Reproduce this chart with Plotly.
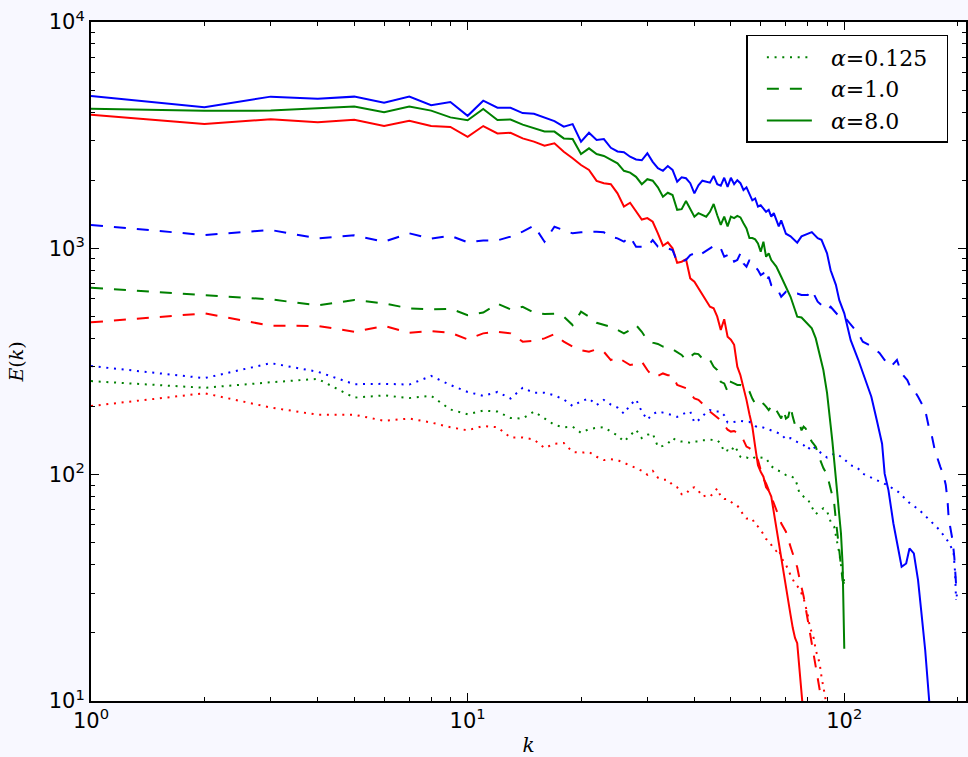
import plotly.graph_objects as go

# ---------------- data ----------------
# alpha = 8.0 (solid)
k_blue_solid = [1, 2, 3, 4, 5, 6, 7, 8, 9, 10, 11, 12, 13, 14, 15, 16, 17, 18, 19, 20,
                21, 22, 23, 24, 25, 26, 27, 28, 29, 30, 31, 32, 33, 34, 35, 36, 37, 38, 39, 40,
                41, 42, 43, 44, 45, 46, 47, 48, 49, 50, 51, 52, 53, 54, 55, 56, 57, 58, 59, 60,
                62, 63, 64, 65, 67, 68, 70, 72, 75, 77, 80, 82, 85, 87, 90, 92, 95, 97, 100,
                104, 109, 113, 118, 122, 126, 128, 131, 135, 139, 142, 146, 149, 153, 157, 160,
                164, 168, 170]
E_blue_solid = [4710, 4200, 4680, 4580, 4680, 4400, 4680, 4290, 4430, 3850, 4490, 4180, 4180,
                3960, 3930, 3790, 3650, 3450, 3540, 2960, 3240, 3010, 3040, 2780, 2680, 2660,
                2540, 2470, 2450, 2630, 2410, 2260, 2200, 2310, 2220, 1970, 2060, 2040, 1940,
                1750, 1900, 1990, 1970, 1950, 2090, 1920, 1890, 2050, 1870, 2050, 1920, 2000,
                1940, 1810, 1860, 1750, 1630, 1660, 1530, 1550, 1450, 1480, 1380, 1430, 1250,
                1330, 1160, 1130, 1060, 1130, 1160, 1180, 1110, 1090, 950, 800, 690, 590, 516,
                393, 321, 271, 221, 174, 137, 101, 85.5, 61, 46.4, 39.2, 40.5, 47.2, 44.9, 34.2,
                25.2, 16.8, 10.1, 8.0]

k_green_solid = [1, 2, 3, 4, 5, 6, 7, 8, 9, 10, 11, 12, 13, 14, 15, 16, 17, 18, 19, 20,
                 21, 22, 23, 24, 25, 26, 27, 28, 29, 30, 31, 32, 33, 34, 35, 36, 37, 38, 39, 40,
                 41, 42, 43, 44, 45, 46, 47, 48, 49, 50, 51, 52, 53, 54, 55, 56, 57, 58, 59, 60,
                 61, 62, 63, 64, 66, 68, 70, 72, 74, 75, 77, 80, 82, 84, 86, 88, 90, 91, 92, 93,
                 94, 95, 96, 97, 98, 99, 100]
E_green_solid = [4140, 4050, 4060, 4170, 4230, 3990, 4230, 4060, 3790, 3680, 4130, 3690, 3710,
                 3520, 3380, 3280, 3280, 3060, 3040, 2610, 2765, 2610, 2560, 2470, 2375, 2200,
                 2160, 2070, 1920, 2020, 1990, 1860, 1690, 1760, 1720, 1480, 1490, 1620, 1500,
                 1380, 1430, 1400, 1380, 1450, 1570, 1400, 1270, 1380, 1250, 1380, 1360, 1390,
                 1370, 1290, 1225, 1110, 1110, 1095, 1050, 966, 1070, 918, 950, 888, 830, 749,
                 677, 611, 534, 499, 495, 462, 443, 400, 340, 290, 230, 200, 165, 140, 118, 97,
                 80, 66, 55, 40, 17]

k_red_solid = [1, 2, 3, 4, 5, 6, 7, 8, 9, 10, 11, 12, 13, 14, 15, 16, 17, 18, 19, 20,
               21, 22, 23, 24, 25, 26, 27, 28, 29, 30, 31, 32, 33, 34, 35, 36, 37, 38, 39, 40,
               41, 42, 43, 44, 45, 46, 47, 48, 49, 50, 51, 52, 53, 54, 55, 56, 57, 58, 59, 60,
               61, 62, 63, 64, 65, 66, 67, 68, 69, 70, 71, 72, 73, 74, 75, 76, 77, 78]
E_red_solid = [3890, 3540, 3720, 3610, 3700, 3470, 3660, 3470, 3440, 3110, 3470, 3220, 3240,
               3060, 2960, 2840, 2910, 2670, 2500, 2335, 2220, 1985, 1940, 1920, 1750, 1530,
               1590, 1450, 1340, 1360, 1310, 1165, 1027, 1063, 1000, 864, 873, 894, 737, 712,
               666, 632, 591, 552, 543, 499, 436, 486, 407, 395, 375, 300, 275, 245, 214, 185,
               163, 133, 110, 103, 98, 88, 85, 80, 68, 58, 50, 42, 36, 31, 28, 24, 21, 19, 18,
               14, 11, 8.5]

# alpha = 1.0 (dashed)
k_blue_dash = [1, 2, 3, 4, 5, 6, 7, 8, 9, 10, 11, 12, 13, 14, 15, 16, 17, 18, 19, 20,
               21, 22, 23, 24, 25, 26, 27, 28, 29, 30, 31, 32, 33, 34, 35, 36, 37, 38, 39, 40,
               41, 42, 43, 44, 45, 46, 47, 48, 49, 50, 51, 52, 53, 54, 55, 56, 57, 58, 59, 60,
               61, 62, 63, 64, 66, 68, 70, 72, 75, 77, 80, 82, 85, 87, 90, 92, 95, 97, 100,
               105, 109, 112, 118, 124, 128, 133, 138, 142, 147, 151, 154, 157, 160, 164, 168,
               171, 174, 177, 180, 183, 186, 188, 189, 191, 194, 196, 198, 199]
E_blue_dash = [1268, 1145, 1205, 1107, 1141, 1070, 1165, 1103, 1137, 1063, 1084, 1084, 1126,
               1185, 1259, 1070, 1246, 1205, 1165, 1177, 1185, 1185, 1177, 1126, 1107, 1070,
               1126, 1017, 1017, 1017, 1088, 1017, 1000, 1000, 983, 873, 873, 888, 934, 950,
               925, 950, 983, 1000, 1024, 1034, 1000, 918, 934, 950, 873, 888, 950, 858, 830,
               888, 844, 830, 802, 762, 775, 712, 749, 688, 677, 611, 643, 632, 632, 622, 622,
               654, 581, 562, 534, 552, 516, 499, 499, 451, 420, 387, 370, 345, 321, 300, 321,
               280, 262, 236, 233, 221, 207, 193, 160, 147, 128, 116, 108, 101, 90, 77, 67, 59,
               51, 43, 35, 29]

k_green_dash = [1, 2, 3, 4, 5, 6, 7, 8, 9, 10, 11, 12, 13, 14, 15, 16, 17, 18, 19, 20,
                21, 22, 23, 24, 25, 26, 27, 28, 29, 30, 31, 32, 33, 34, 35, 36, 37, 38, 39, 40,
                41, 42, 43, 44, 45, 46, 47, 48, 49, 50, 51, 52, 53, 54, 55, 56, 57, 58, 59, 60,
                61, 62, 63, 64, 65, 66, 67, 68, 69, 70, 71, 72, 73, 74, 75, 76, 77, 78, 79, 80,
                82, 84, 86, 88, 90, 92, 94, 95, 96, 97, 98, 99, 100]
E_green_dash = [670, 620, 595, 560, 591, 571, 543, 537, 541, 507, 520, 570, 537, 552, 520, 513,
                514, 499, 458, 525, 499, 469, 461, 450, 436, 421, 436, 458, 428, 393, 383, 378,
                368, 365, 358, 349, 338, 321, 332, 343, 341, 326, 316, 321, 300, 290, 257, 253,
                233, 257, 253, 249, 249, 245, 245, 233, 217, 206, 200, 203, 206, 200, 193, 200,
                190, 193, 186, 177, 193, 177, 180, 200, 180, 166, 163, 168, 157, 163, 160, 150,
                140, 133, 118, 107, 100, 85, 75, 63, 53, 45, 39, 34, 33]

k_red_dash = [1, 2, 3, 4, 5, 6, 7, 8, 9, 10, 11, 12, 13, 14, 15, 16, 17, 18, 19, 20,
              21, 22, 23, 24, 25, 26, 27, 28, 29, 30, 31, 32, 33, 34, 35, 36, 37, 38, 39, 40,
              41, 42, 43, 44, 45, 46, 47, 48, 49, 50, 51, 52, 53, 54, 55, 56, 57, 58, 59, 60,
              61, 62, 63, 64, 65, 66, 68, 70, 72, 74, 75, 76, 78, 80, 82, 84, 86, 87, 88]
E_red_dash = [471, 516, 455, 454, 428, 454, 424, 431, 424, 396, 421, 428, 421, 387, 390, 400,
              418, 387, 368, 355, 349, 358, 349, 321, 330, 316, 305, 308, 316, 290, 271, 273,
              280, 275, 275, 249, 245, 241, 229, 217, 214, 206, 196, 190, 186, 180, 174, 166,
              158, 155, 156, 153, 150, 142, 133, 131, 128, 122, 116, 105, 96, 91.5, 85.5, 81,
              75, 70, 61, 56, 48, 42, 39, 35, 29, 22.8, 18, 14.7, 11.6, 10.4, 9]

# alpha = 0.125 (dotted)
k_blue_dot = [1, 2, 3, 4, 5, 6, 7, 8, 9, 10, 11, 12, 13, 14, 15, 16, 17, 18, 19, 20,
              21, 22, 23, 24, 25, 26, 27, 28, 29, 30, 31, 32, 33, 34, 35, 36, 37, 38, 39, 40,
              41, 42, 43, 44, 45, 46, 47, 48, 49, 50, 51, 52, 53, 54, 55, 56, 57, 58, 59, 60,
              62, 64, 66, 68, 70, 72, 74, 76, 78, 80, 82, 85, 88, 90, 92, 94, 96, 98, 100,
              104, 108, 112, 120, 130, 139, 149, 158, 168, 179, 189, 195, 197, 198]
E_blue_dot = [302, 267, 311, 285, 251, 252, 250, 273, 249, 232, 223, 232, 217, 242, 230, 230,
              224, 215, 201, 211, 217, 203, 214, 204, 198, 186, 203, 215, 190, 175, 185, 190,
              188, 186, 183, 180, 184, 188, 190, 170, 174, 181, 188, 193, 190, 190, 190, 183,
              170, 170, 171, 173, 173, 172, 172, 171, 168, 164, 162, 163, 160, 157, 154, 151,
              143, 145, 141, 138, 135, 129, 135, 128, 122, 119, 121, 124, 123, 120, 117, 110,
              108, 101, 96, 90, 84, 75, 70, 63, 57, 50.5, 45.6, 36.6, 28]

k_green_dot = [1, 2, 3, 4, 5, 6, 7, 8, 9, 10, 11, 12, 13, 14, 15, 16, 17, 18, 19, 20,
               21, 22, 23, 24, 25, 26, 27, 28, 29, 30, 31, 32, 33, 34, 35, 36, 37, 38, 39, 40,
               41, 42, 43, 44, 45, 46, 47, 48, 49, 50, 51, 52, 53, 54, 55, 56, 57, 58, 60, 62,
               64, 66, 68, 70, 72, 74, 75, 76, 78, 80, 82, 84, 86, 88, 90, 92, 94, 96, 97, 98,
               99, 100]
E_green_dot = [259, 242, 256, 265, 219, 224, 218, 223, 194, 185, 192, 190, 178, 177, 190, 177,
               166, 162, 163, 153, 159, 161, 162, 155, 149, 140, 149, 158, 145, 150, 152, 133,
               134, 137, 145, 141, 140, 140, 138, 140, 140, 142, 142, 143, 142, 142, 137, 126,
               128, 126, 134, 128, 120, 118, 119, 118, 117, 120, 119, 118, 109, 105, 103, 99.6,
               98.8, 96, 90, 83, 80, 78, 72, 67, 69, 71, 69, 62, 59, 50, 45, 40, 36, 33.6]

k_red_dot = [1, 2, 3, 4, 5, 6, 7, 8, 9, 10, 11, 12, 13, 14, 15, 16, 17, 18, 19, 20,
             21, 22, 23, 24, 25, 26, 27, 28, 29, 30, 31, 32, 33, 34, 35, 36, 37, 38, 39, 40,
             41, 42, 43, 44, 45, 46, 47, 48, 49, 50, 51, 52, 53, 54, 55, 56, 57, 58, 59, 60,
             61, 62, 63, 64, 65, 66, 67, 68, 70, 72, 74, 76, 78, 80, 81, 83, 84, 86, 87, 89, 90]
E_red_dot = [201, 229, 198, 184, 184, 173, 177, 170, 162, 157, 164, 162, 146, 146, 143, 131,
             137, 138, 126, 125, 126, 120, 116, 117, 116, 113, 110, 107, 104, 100, 104, 97,
             95, 95, 90, 88, 82, 82, 87, 88, 85, 80, 81, 80, 83, 87, 80, 78, 78, 76, 74, 73,
             70, 66, 64, 64, 64, 60, 59, 57, 54, 52, 51, 49, 47, 46, 47, 43, 40, 36, 33, 31.4,
             28.4, 24, 21.3, 18.9, 16.8, 14.7, 12.8, 10.4, 9]

legend_labels = ["<i>α</i>=0.125", "<i>α</i>=1.0", "<i>α</i>=8.0"]
x_tick_vals = [1, 10, 100]
x_tick_text = ["10<sup>0</sup>", "10<sup>1</sup>", "10<sup>2</sup>"]
y_tick_vals = [10, 100, 1000, 10000]
y_tick_text = ["10<sup>1</sup>", "10<sup>2</sup>", "10<sup>3</sup>", "10<sup>4</sup>"]

# ---------------- styling ----------------
BLUE, GREEN, RED = "#0000ff", "#008000", "#ff0000"
DOT = "2px,5.7px"
DASH = "12px,11px"
LW = 2
PAD_L = "&nbsp;&nbsp;"
PAD_R = "&nbsp;&nbsp;"

fig = go.Figure()

series = [
    (k_red_dot, E_red_dot, RED, DOT, None),
    (k_red_dash, E_red_dash, RED, DASH, None),
    (k_red_solid, E_red_solid, RED, "solid", None),
    (k_blue_dot, E_blue_dot, BLUE, DOT, None),
    (k_blue_dash, E_blue_dash, BLUE, DASH, None),
    (k_blue_solid, E_blue_solid, BLUE, "solid", None),
    (k_green_dot, E_green_dot, GREEN, DOT, legend_labels[0]),
    (k_green_dash, E_green_dash, GREEN, DASH, legend_labels[1]),
    (k_green_solid, E_green_solid, GREEN, "solid", legend_labels[2]),
]
for kx, ey, col, dash, name in series:
    fig.add_trace(go.Scatter(
        x=kx, y=ey, mode="lines",
        line=dict(color=col, width=LW, dash=dash),
        name=(PAD_L + name + PAD_R) if name else "",
        showlegend=name is not None,
        hoverinfo="skip",
    ))

x_minor = [2, 3, 4, 5, 6, 7, 8, 9, 20, 30, 40, 50, 60, 70, 80, 90, 200]
y_minor = [20, 30, 40, 50, 60, 70, 80, 90, 200, 300, 400, 500, 600, 700, 800, 900,
           2000, 3000, 4000, 5000, 6000, 7000, 8000, 9000]

tick_font = dict(family="DejaVu Sans", size=21, color="black")
axis_common = dict(
    type="log", showgrid=False, zeroline=False,
    showline=True, linecolor="black", linewidth=2, mirror="allticks",
    ticks="inside", ticklen=8, tickwidth=1, tickcolor="black",
    tickfont=tick_font,
)

fig.update_xaxes(
    **axis_common,
    range=[0, 2.3232],
    tickmode="array", tickvals=x_tick_vals, ticktext=x_tick_text,
    minor=dict(ticks="inside", ticklen=4, tickwidth=1, tickcolor="black",
               tickmode="array", tickvals=x_minor, showgrid=False),
    title=dict(text="<i>k</i>", font=dict(family="DejaVu Serif", size=20, color="black"),
               standoff=6),
)
fig.update_yaxes(
    **axis_common,
    range=[1, 4],
    tickmode="array", tickvals=y_tick_vals, ticktext=y_tick_text,
    minor=dict(ticks="inside", ticklen=4, tickwidth=1, tickcolor="black",
               tickmode="array", tickvals=y_minor, showgrid=False),
    title=dict(text="<i>E</i>(<i>k</i>)", font=dict(family="DejaVu Serif", size=19, color="black"),
               standoff=20),
)

fig.update_layout(
    width=968, height=757,
    margin=dict(l=91, r=0, t=22, b=56, pad=0),
    paper_bgcolor="#f8f8ff",
    plot_bgcolor="white",
    showlegend=True,
    legend=dict(
        x=0.749, y=0.981, xanchor="left", yanchor="top",
        bgcolor="white", bordercolor="black", borderwidth=1.5,
        font=dict(family="DejaVu Serif", size=22, color="black"),
        traceorder="normal",
        itemwidth=45,
        indentation=14,
    ),
)

fig.write_html("out.html")
